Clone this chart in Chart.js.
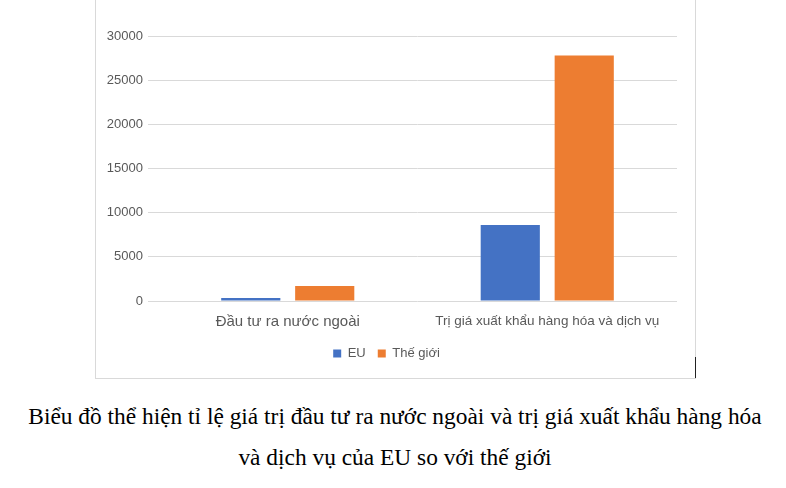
<!DOCTYPE html>
<html>
<head>
<meta charset="utf-8">
<script src="https://cdn.jsdelivr.net/npm/chart.js@4"></script>
<style>
  body { margin: 0; background: #fff; width: 786px; height: 488px; overflow: hidden; position: relative; }
  #box { position: absolute; left: 95px; top: -1px; width: 599px; height: 378px; border: 1px solid #d9d9d9; }
  #box canvas { display: block; }
  #mark { position: absolute; left: 695px; top: 357px; width: 1px; height: 21px; background: #222; }
  #caption { position: absolute; left: 0; top: 396px; width: 790px; text-align: center;
    font-family: "Liberation Serif", "DejaVu Serif", serif; font-size: 23.4px; line-height: 41px; color: #000; }
</style>
</head>
<body>
<div id="box"><canvas id="myChart" width="599" height="378"></canvas></div>
<div id="mark"></div>
<div id="caption">Biểu đồ thể hiện tỉ lệ giá trị đầu tư ra nước ngoài và trị giá xuất khẩu hàng hóa<br>và dịch vụ của EU so với thế giới</div>
<script>
// du lieu
var categories = ['Đầu tư ra nước ngoài', 'Trị giá xuất khẩu hàng hóa và dịch vụ'];
var euValues = [340, 8600];
var worldValues = [1700, 27800];
var yTicks = [0, 5000, 10000, 15000, 20000, 25000, 30000];

var ctx = document.getElementById('myChart');
new Chart(ctx, {
  type: 'bar',
  data: {
    labels: categories,
    datasets: [{
      label: 'EU',
      data: euValues,
      backgroundColor: '#4472C4',
      borderWidth: 0
    }, {
      label: 'Thế giới',
      data: worldValues,
      backgroundColor: '#ED7D31',
      borderWidth: 0
    }]
  },
  options: {
    responsive: false,
    animation: false,
    categoryPercentage: 0.57,
    barPercentage: 0.8,
    layout: { padding: { top: 36, right: 18, left: 0, bottom: 8 } },
    plugins: {
      legend: {
        position: 'bottom',
        labels: {
          boxWidth: 8, boxHeight: 8, padding: 12,
          color: '#595959',
          font: { family: 'Liberation Sans', size: 13 }
        }
      },
      tooltip: { enabled: false }
    },
    scales: {
      x: {
        grid: { display: false },
        border: { display: false },
        ticks: {
          color: '#595959',
          padding: 4,
          maxRotation: 0,
          font: function(c) {
            return { family: 'Liberation Sans', size: c.index === 0 ? 15 : 13.5 };
          }
        }
      },
      y: {
        min: 0,
        max: 30000,
        afterFit: function(axis) { axis.width = 62; },
        afterBuildTicks: function(axis) { axis.ticks = yTicks.map(function(v) { return { value: v }; }); },
        grid: { color: '#d9d9d9', drawTicks: true, tickLength: 10 },
        border: { display: false },
        ticks: {
          color: '#595959',
          padding: 5,
          font: { family: 'Liberation Sans', size: 13 },
          callback: function(v) { return String(v); }
        }
      }
    }
  }
});
</script>
</body>
</html>
